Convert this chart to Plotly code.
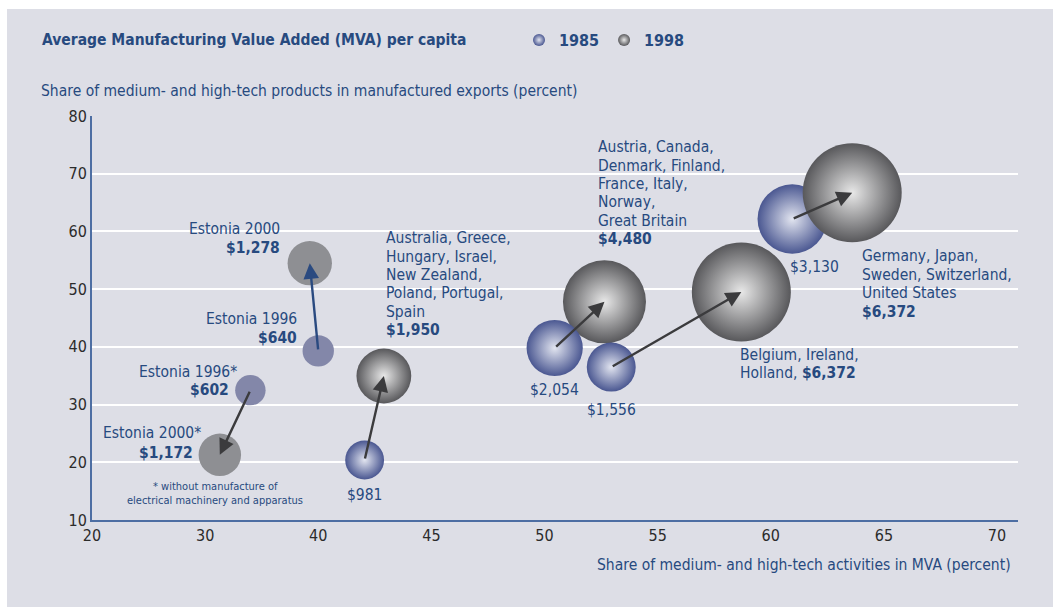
import numpy as np
import plotly.graph_objects as go

# ---------------- data ----------------
x_tick_labels = [20, 30, 40, 45, 50, 55, 60, 65, 70]
y_tick_vals = [10, 20, 30, 40, 50, 60, 70, 80]

group_names = ["Estonia*", "Estonia", "Australia group", "Austria group", "Belgium group", "Germany group"]
# start point (1985 / Estonia 1996)
x_start = [34.0, 40.0, 42.05, 50.45, 52.95, 60.95]
y_start = [32.5, 39.3, 20.4, 39.8, 36.5, 62.15]
mva_start = [602, 640, 981, 2054, 1556, 3130]
# end point (1998 / Estonia 2000)
x_end = [31.3, 39.25, 42.9, 52.65, 58.7, 63.6]
y_end = [21.3, 54.5, 34.95, 47.8, 49.5, 66.7]
mva_end = [1172, 1278, 1950, 4480, 6372, 6372]

# ---------------- style ----------------
FONT = "Liberation Sans Narrow, DejaVu Sans Condensed, Arial Narrow, sans-serif"
TXT = "#274a7f"
PANEL = "#dddee6"
AXIS = "#4d6ea3"
SIZEREF = 1.3
LS = 15.5  # label font size

W, H = 1053, 607
L, R, T, B = 92, 35, 116, 87
PW, PH = W - L - R, H - T - B


def pos(v):
    """Axis position of a value on the evenly spaced (broken) x scale."""
    return np.interp(v, x_tick_labels, np.arange(len(x_tick_labels)))


def px(xp):
    return (xp - L) / PW


def py(yp):
    return (H - B - yp) / PH


fig = go.Figure()

main = [2, 3, 4, 5]
grey_first = [2, 3, 4]
grey_top = [5]
est = [0, 1]


def bubble(idx, xs, ys, ss, color, grad, name, show, rank=None):
    fig.add_trace(go.Scatter(
        x=[pos(xs[i]) for i in idx], y=[ys[i] for i in idx],
        mode="markers", name=name, showlegend=show, legendrank=rank or 1000,
        marker=dict(size=[ss[i] for i in idx], sizemode="area", sizeref=SIZEREF,
                    color=color, line=dict(width=0),
                    gradient=dict(type="radial", color=grad) if grad else None,
                    opacity=1),
        hoverinfo="skip"))


bubble(grey_first, x_end, y_end, mva_end, "#58585b", "#e8e8e8", "1998", True, 2)
bubble(main, x_start, y_start, mva_start, "#4a5791", "#e2e5f0", "1985", True, 1)
bubble(grey_top, x_end, y_end, mva_end, "#58585b", "#e8e8e8", "1998b", False)
bubble(est, x_start, y_start, mva_start, "#8387a9", None, "e1", False)
bubble(est, x_end, y_end, mva_end, "#8e8f93", None, "e2", False)

ann = []
# arrows from start to end
for i in range(len(group_names)):
    ann.append(dict(x=pos(x_end[i]), y=y_end[i], ax=pos(x_start[i]), ay=y_start[i],
                    xref="x", yref="y", axref="x", ayref="y", text="",
                    showarrow=True, arrowhead=2, arrowsize=1.3, arrowwidth=2.4,
                    arrowcolor="#2a4a80" if i == 1 else "#3b3b3d", standoff=0))

# labels: (x, y, xanchor, [(text, xshift, yshift), ...], size)
labels = [
    (x_end[1], y_end[1], "right", [("Estonia 2000", -28, 34), ("<b>$1,278</b>", -28, 15)], LS),
    (x_start[1], y_start[1], "right", [("Estonia 1996", -19, 32), ("<b>$640</b>", -19, 13)], LS),
    (x_start[0], y_start[0], "right", [("Estonia 1996*", -11, 18), ("<b>$602</b>", -19, 0)], LS),
    (x_end[0], y_end[0], "right", [("Estonia 2000*", -17, 22), ("<b>$1,172</b>", -25, 2)], LS),
    (x_end[0], y_end[0], "center", [("* without manufacture of", -4, -32),
                                    ("electrical machinery and apparatus", -5, -46)], 11),
    (x_start[2], y_start[2], "center", [("$981", 0, -35)], LS),
    (x_end[2], y_end[2], "left", [("Australia, Greece,", 0, 138), ("Hungary, Israel,", 0, 119),
                                  ("New Zealand,", 0, 101), ("Poland, Portugal,", 0, 83),
                                  ("Spain", 0, 64), ("<b>$1,950</b>", 0, 46)], LS),
    (x_start[3], y_start[3], "center", [("$2,054", 0, -42)], LS),
    (x_start[4], y_start[4], "center", [("$1,556", 0, -43)], LS),
    (x_end[3], y_end[3], "left", [("Austria, Canada,", -8, 155), ("Denmark, Finland,", -8, 136),
                                  ("France, Italy,", -8, 118), ("Norway,", -8, 100),
                                  ("Great Britain", -8, 81), ("<b>$4,480</b>", -8, 63)], LS),
    (x_end[4], y_end[4], "left", [("Belgium, Ireland,", -3, -63), ("Holland, <b>$6,372</b>", -3, -81)], LS),
    (x_start[5], y_start[5], "center", [("$3,130", 22, -48)], LS),
    (x_end[5], y_end[5], "left", [("Germany, Japan,", 8, -63), ("Sweden, Switzerland,", 8, -82),
                                  ("United States", 8, -100), ("<b>$6,372</b>", 8, -119)], LS),
]
for (lx, ly, anchor, lines, size) in labels:
    for (t, xs, ys) in lines:
        ann.append(dict(x=pos(lx), y=ly, xref="x", yref="y", text=t, showarrow=False,
                        xanchor=anchor, yanchor="middle", xshift=xs, yshift=ys,
                        font=dict(family=FONT, size=size, color=TXT)))

# titles
ann.append(dict(x=px(40), y=py(40), xref="paper", yref="paper", xanchor="left", yanchor="middle",
                text="<b>Average Manufacturing Value Added (MVA) per capita</b>", showarrow=False,
                font=dict(family=FONT, size=15.5, color=TXT)))
ann.append(dict(x=px(39), y=py(91), xref="paper", yref="paper", xanchor="left", yanchor="middle",
                text="Share of medium- and high-tech products in manufactured exports (percent)",
                showarrow=False, font=dict(family=FONT, size=15.5, color=TXT)))
ann.append(dict(x=px(1013), y=py(565), xref="paper", yref="paper", xanchor="right", yanchor="middle",
                text="Share of medium- and high-tech activities in MVA (percent)",
                showarrow=False, font=dict(family=FONT, size=15.5, color=TXT)))

white_strips = [
    dict(type="rect", xref="paper", yref="paper", x0=px(0), x1=px(W), y0=py(9), y1=py(0),
         fillcolor="white", line=dict(width=0), layer="below"),
    dict(type="rect", xref="paper", yref="paper", x0=px(0), x1=px(7), y0=py(H), y1=py(0),
         fillcolor="white", line=dict(width=0), layer="below"),
]

fig.update_layout(
    width=W, height=H,
    margin=dict(l=L, r=R, t=T, b=B),
    paper_bgcolor=PANEL, plot_bgcolor="rgba(0,0,0,0)",
    font=dict(family=FONT, color="#2b2b2b"),
    annotations=ann,
    shapes=white_strips,
    legend=dict(orientation="h", x=px(519), y=py(40), xanchor="left", yanchor="middle",
                bgcolor="rgba(0,0,0,0)", itemsizing="constant", itemwidth=30,
                font=dict(family=FONT, size=16, color=TXT, weight="bold")),
    xaxis=dict(range=[0, (W - R - L) / ((997 - 92) / 8)], tickvals=list(range(len(x_tick_labels))),
               ticktext=[str(v) for v in x_tick_labels], showgrid=False, zeroline=False,
               showline=True, linecolor=AXIS, linewidth=2, ticks="",
               tickfont=dict(family=FONT, size=16, color="#2b2b2b")),
    yaxis=dict(range=[10, 80], tickvals=y_tick_vals, showgrid=True, gridcolor="white", gridwidth=2,
               zeroline=False, showline=True, linecolor=AXIS, linewidth=2, ticks="",
               tickfont=dict(family=FONT, size=16, color="#2b2b2b")),
)

fig.write_html("out.html", config={"displayModeBar": False},
               post_script="document.body.style.margin='0';document.body.style.overflow='hidden';")
